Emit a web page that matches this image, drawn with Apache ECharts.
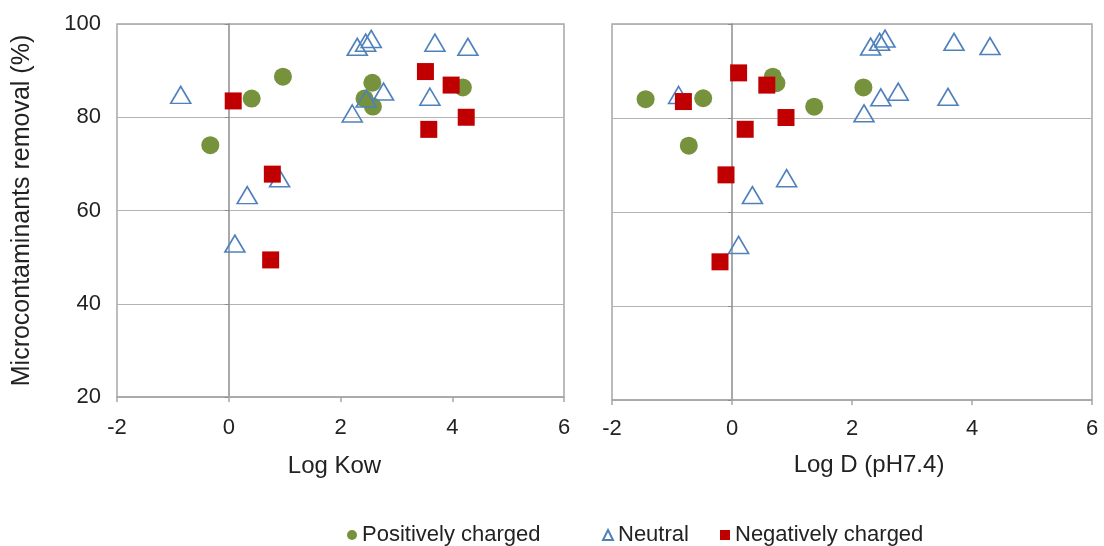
<!DOCTYPE html>
<html>
<head>
<meta charset="utf-8">
<script src="https://cdn.jsdelivr.net/npm/echarts@6/dist/echarts.min.js"></script>
<style>html,body{margin:0;padding:0;background:#fff}#c{width:1104px;height:546px}</style>
</head>
<body>
<div id="c"></div>
<script>
// Data: [x, removal %]
var leftPositive = [[0.97,88.7],[0.41,84.0],[-0.33,74.0],[2.57,87.4],[2.43,84.0],[2.58,82.3],[4.19,86.4]];
var leftNeutral = [[-0.86,84.8],[2.30,95.1],[2.45,96.0],[2.55,96.8],[3.69,96.0],[4.28,95.1],[2.77,85.5],[2.46,84.0],[3.60,84.4],[2.21,80.8],[0.91,66.9],[0.33,63.3],[0.11,52.9]];
var leftNegative = [[0.08,83.5],[3.52,89.8],[3.98,86.9],[3.58,77.4],[4.25,80.0],[0.78,67.8],[0.75,49.4]];
var rightPositive = [[-1.44,84.0],[-0.48,84.2],[-0.72,74.1],[0.68,88.8],[0.74,87.4],[1.37,82.4],[2.19,86.5]];
var rightNeutral = [[-0.89,84.9],[2.31,95.2],[2.46,96.2],[2.55,96.9],[3.70,96.2],[4.30,95.3],[2.77,85.6],[2.48,84.4],[3.60,84.5],[2.20,81.0],[0.91,67.2],[0.34,63.6],[0.11,53.0]];
var rightNegative = [[-0.81,83.5],[0.11,89.6],[0.58,87.0],[0.90,80.1],[0.22,77.6],[-0.10,67.9],[-0.20,49.4]];
var xTicks = [-2, 0, 2, 4, 6];
var yTicks = [20, 40, 60, 80, 100];
var xNames = ['Log Kow', 'Log D (pH7.4)'];
var yName = 'Microcontaminants removal (%)';
var seriesNames = ['Positively charged', 'Neutral', 'Negatively charged'];

var FONT = '"Liberation Sans", Arial, sans-serif';
var GREEN = '#76923c', BLUE = '#4f81bd', RED = '#c00000';
var GRID_COL = '#a6a6a6';

function xAxisDef(i, gap, margin, pad) {
  return {
    type: 'value', gridIndex: i, min: xTicks[0], max: xTicks[xTicks.length-1], interval: 2,
    name: xNames[i], nameLocation: 'middle', nameGap: gap,
    nameTextStyle: {fontFamily: FONT, fontSize: 24, color: '#222', padding: pad},
    axisLine: {show: true, onZero: false, lineStyle: {color: GRID_COL, width: 1.5}},
    axisTick: {show: true, inside: false, length: 5, lineStyle: {color: GRID_COL, width: 1.5}},
    axisLabel: {fontFamily: FONT, fontSize: 22, color: '#222', margin: margin},
    splitLine: {show: false}
  };
}
function yLabelAxis(i, showLabels) {
  return {
    type: 'value', gridIndex: i, min: yTicks[0], max: yTicks[yTicks.length-1], interval: 20,
    position: 'left',
    name: showLabels ? yName : '', nameLocation: 'middle', nameGap: 82, nameRotate: 90,
    nameTextStyle: {fontFamily: FONT, fontSize: 25, color: '#222'},
    axisLine: {show: false, onZero: false},
    axisTick: {show: false},
    axisLabel: {show: showLabels, fontFamily: FONT, fontSize: 22, color: '#222', margin: 16},
    splitLine: {show: true, lineStyle: {color: '#b3b3b3', width: 1}}
  };
}
function yZeroAxis(i) {
  return {
    type: 'value', gridIndex: i, min: yTicks[0], max: yTicks[yTicks.length-1], interval: 20,
    position: 'left',
    axisLine: {show: true, onZero: true, onZeroAxisIndex: i, lineStyle: {color: '#8c8c8c', width: 1.5}},
    axisTick: {show: true, inside: false, length: 4, lineStyle: {color: '#8c8c8c'}},
    axisLabel: {show: false},
    splitLine: {show: false}
  };
}
function sc(name, data, gi, yi) {
  var s = {name: name, type: 'scatter', xAxisIndex: gi, yAxisIndex: yi, data: data, z: 3};
  if (name === seriesNames[0]) {
    s.symbol = 'circle'; s.symbolSize = 18; s.itemStyle = {color: GREEN, opacity: 1};
  } else if (name === seriesNames[1]) {
    s.symbol = 'triangle'; s.symbolSize = [20, 17];
    s.itemStyle = {color: 'rgba(255,255,255,0)', borderColor: BLUE, borderWidth: 1.6, opacity: 1};
  } else {
    s.symbol = 'rect'; s.symbolSize = 17; s.itemStyle = {color: RED, opacity: 1};
  }
  return s;
}
function legendDef(name, left) {
  return {
    top: 519, left: left, itemWidth: 10, itemHeight: 10, itemGap: 0,
    textStyle: {fontFamily: FONT, fontSize: 22, color: '#222'},
    data: [name]
  };
}

var chart = echarts.init(document.getElementById('c'), null, {renderer: 'canvas'});
chart.setOption({
  animation: false,
  backgroundColor: '#fff',
  grid: [
    {left: 117, top: 24, width: 447, height: 373, show: true, borderColor: GRID_COL, borderWidth: 1.5, backgroundColor: 'transparent'},
    {left: 612, top: 24, width: 480, height: 376, show: true, borderColor: GRID_COL, borderWidth: 1.5, backgroundColor: 'transparent'}
  ],
  xAxis: [xAxisDef(0, 57, 20, [0, 12, 0, 0]), xAxisDef(1, 53, 18, [0, 0, 0, 34])],
  yAxis: [yLabelAxis(0, true), yZeroAxis(0), yLabelAxis(1, false), yZeroAxis(1)],
  legend: [legendDef(seriesNames[0], 342), legendDef(seriesNames[1], 597), legendDef(seriesNames[2], 715)],
  series: [
    sc(seriesNames[0], leftPositive, 0, 0),
    sc(seriesNames[1], leftNeutral, 0, 0),
    sc(seriesNames[2], leftNegative, 0, 0),
    sc(seriesNames[0], rightPositive, 1, 2),
    sc(seriesNames[1], rightNeutral, 1, 2),
    sc(seriesNames[2], rightNegative, 1, 2)
  ]
});
</script>
</body>
</html>
